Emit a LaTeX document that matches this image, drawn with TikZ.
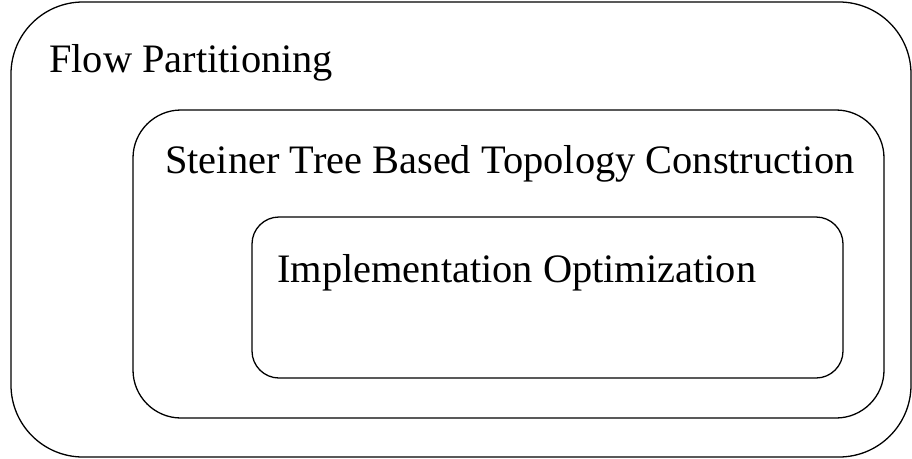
\documentclass[tikz,border=0pt]{standalone}
\usepackage{fontspec}
\setmainfont{Liberation Serif}
\begin{document}
\begin{tikzpicture}[x=1pt,y=-1pt,
  frame/.style={draw=black,line width=1.3pt},
  label/.style={anchor=base west,inner sep=0pt,font=\fontsize{40.4}{48}\selectfont}]
\useasboundingbox (0,0) rectangle (912,458);
% nested stages
\draw[frame,rounded corners=72pt] (11,2) rectangle (911,457);
\draw[frame,rounded corners=48pt] (133,110) rectangle (884,418);
\draw[frame,rounded corners=27pt] (252,217) rectangle (843,378);
% stage titles
\node[label] (flow) at (49,72) {Flow Partitioning};
\node[label] (steiner) at (165,173) {Steiner Tree Based Topology Construction};
\node[label] (impl) at (277,282) {Implementation Optimization};
\end{tikzpicture}
\end{document}
